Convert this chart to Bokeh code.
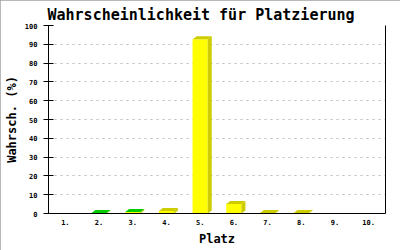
from bokeh.plotting import figure
from bokeh.models import Range1d, FixedTicker, LinearAxis
from bokeh.embed import file_html
from bokeh.resources import INLINE

# data
places = [1, 2, 3, 4, 5, 6, 7, 8, 9, 10]
place_labels = ["1.", "2.", "3.", "4.", "5.", "6.", "7.", "8.", "9.", "10."]
probs = [0.0, 0.3, 0.8, 1.3, 92.7, 5.0, 0.3, 0.3, 0.0, 0.0]
top_colors = ["#CCCC00", "#00CC00", "#00CC00", "#CCCC00", "#CCCC00",
              "#CCCC00", "#CCCC00", "#CCCC00", "#CCCC00", "#CCCC00"]
y_ticks = [0, 10, 20, 30, 40, 50, 60, 70, 80, 90, 100]
title_text = "Wahrscheinlichkeit für Platzierung"

FRONT = "#FFFF00"
SIDE = "#CCCC00"
MONO = "DejaVu Sans Mono"

p = figure(width=400, height=250, output_backend="svg", toolbar_location=None,
           x_range=Range1d(0.5, 10.5), y_range=Range1d(0, 100),
           min_border_left=48, min_border_right=15, min_border_top=25, min_border_bottom=37,
           background_fill_color="white", border_fill_color="white")
p.styles = {"outline": "2px solid #a0a0a0", "outline-offset": "-2px"}

p.title.text = title_text
p.title.text_font = MONO
p.title.text_font_size = "15px"
p.title.text_font_style = "bold"
p.title.text_color = "black"
p.title.text_line_height = 0.7
p.title.align = "left"
p.title.offset = -1
p.title.standoff = 3

p.outline_line_color = None
p.xgrid.grid_line_color = None
p.ygrid.grid_line_color = "#bbbbbb"
p.ygrid.grid_line_dash = "2 4"
p.ygrid.ticker = FixedTicker(ticks=y_ticks)

bw = 0.225
dx = 4 / 33.7
dy = 3 / 1.882

fl = [x - bw for x in places]
fr = [x + bw for x in places]
p.quad(left=fl, right=fr, bottom=[0] * 10, top=probs, fill_color=FRONT, line_color=None)

side_xs, side_ys, top_xs, top_ys = [], [], [], []
for x, v in zip(places, probs):
    if v <= 0:
        side_xs.append([]); side_ys.append([]); top_xs.append([]); top_ys.append([])
        continue
    side_xs.append([x + bw, x + bw + dx, x + bw + dx, x + bw])
    side_ys.append([0, dy, v + dy, v])
    top_xs.append([x - bw, x - bw + dx, x + bw + dx, x + bw])
    top_ys.append([v, v + dy, v + dy, v])
p.patches(side_xs, side_ys, fill_color=SIDE, line_color=None)
p.patches(top_xs, top_ys, fill_color=top_colors, line_color=None)

xa = p.xaxis[0]
xa.ticker = FixedTicker(ticks=places)
xa.major_label_overrides = {x: l for x, l in zip(places, place_labels)}
xa.major_tick_in = 0
xa.major_tick_out = 0
xa.minor_tick_line_color = None
xa.axis_line_color = "black"
xa.major_label_text_font = MONO
xa.major_label_text_font_size = "7px"
xa.major_label_text_font_style = "bold"
xa.major_label_text_color = "black"
xa.major_label_standoff = 5
xa.axis_label = "Platz"
xa.axis_label_text_font = MONO
xa.axis_label_text_font_size = "12px"
xa.axis_label_text_font_style = "bold"
xa.axis_label_text_color = "black"
xa.axis_label_standoff = 4

ya = p.yaxis[0]
ya.ticker = FixedTicker(ticks=y_ticks)
ya.major_tick_in = 5
ya.major_tick_out = 5
ya.minor_tick_line_color = None
ya.axis_line_color = "black"
ya.major_tick_line_color = "black"
ya.major_label_text_font = MONO
ya.major_label_text_font_size = "7px"
ya.major_label_text_font_style = "bold"
ya.major_label_text_color = "black"
ya.major_label_standoff = 6
ya.axis_label = "Wahrsch. (%)"
ya.axis_label_text_font = MONO
ya.axis_label_text_font_size = "12px"
ya.axis_label_text_font_style = "bold"
ya.axis_label_text_color = "black"
ya.axis_label_standoff = 3

ra = LinearAxis(ticker=FixedTicker(ticks=[]), major_tick_in=0, major_tick_out=0,
                minor_tick_line_color=None, major_label_text_font_size="0px",
                axis_line_color="black")
p.add_layout(ra, "right")

open("out.html", "w").write(file_html(p, INLINE))
